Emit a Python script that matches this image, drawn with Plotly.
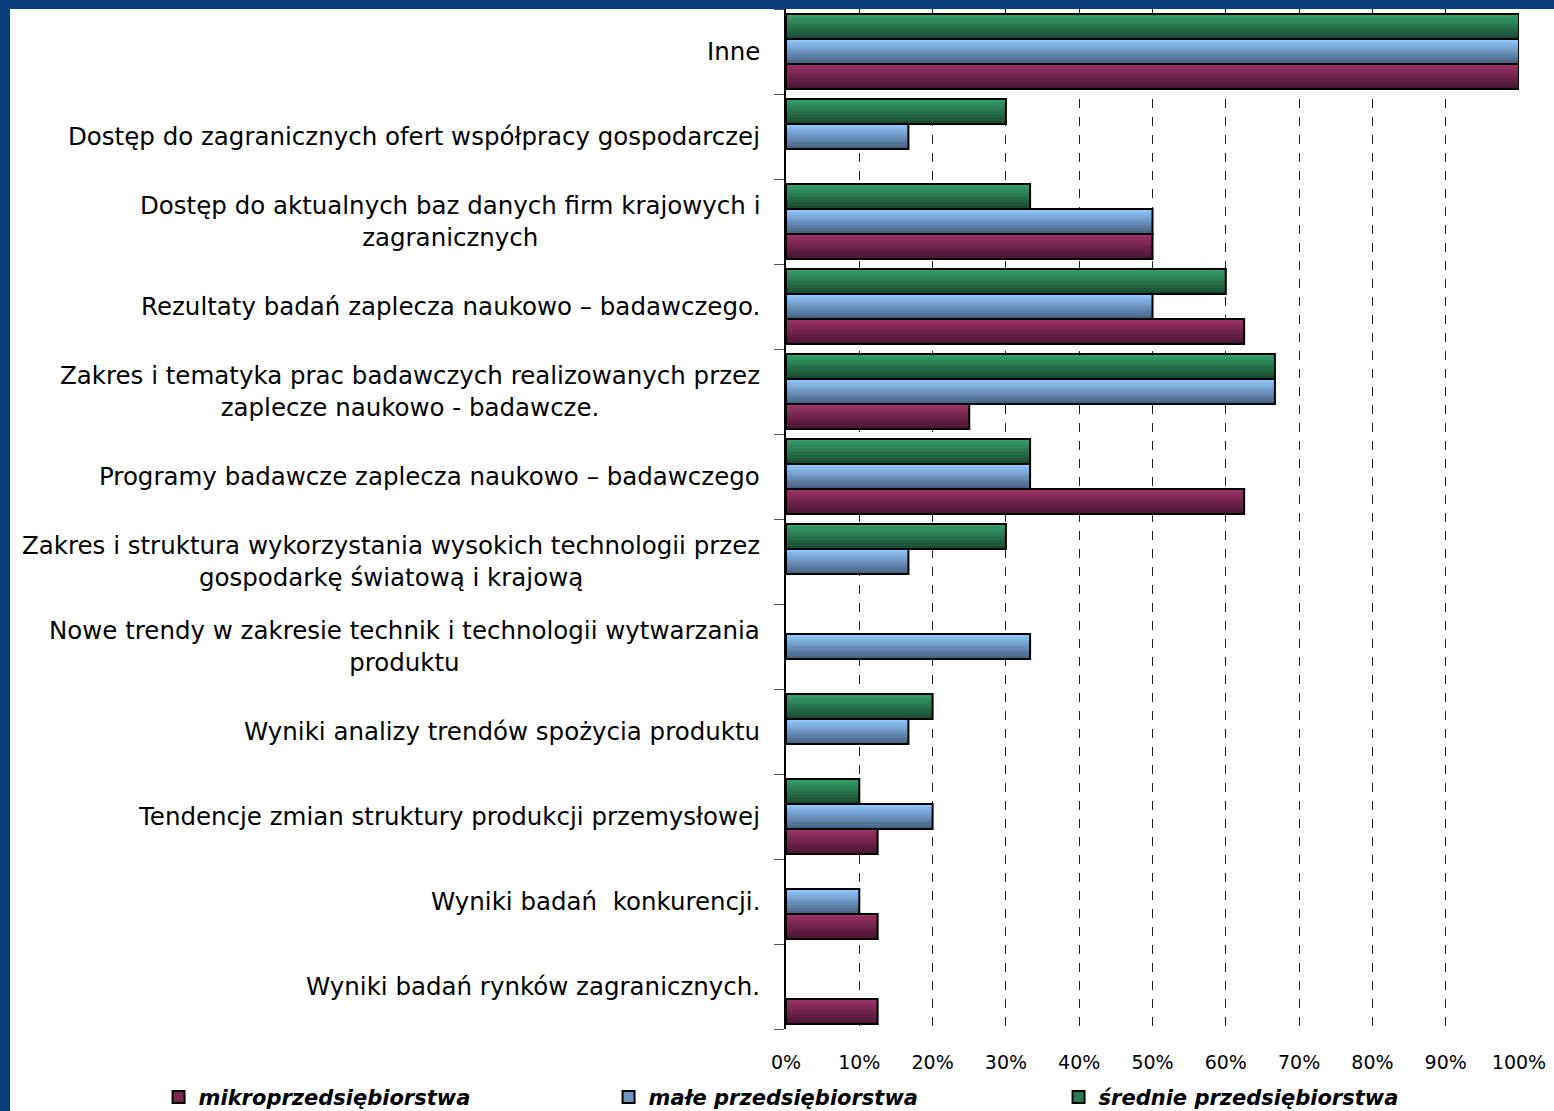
import plotly.graph_objects as go

# categories, top to bottom as read on the chart
categories = [
    "Inne",
    "Dostęp do zagranicznych ofert współpracy gospodarczej",
    "Dostęp do aktualnych baz danych firm krajowych i<br>zagranicznych",
    "Rezultaty badań zaplecza naukowo – badawczego.",
    "Zakres i tematyka prac badawczych realizowanych przez<br>zaplecze naukowo - badawcze.",
    "Programy badawcze zaplecza naukowo – badawczego",
    "Zakres i struktura wykorzystania wysokich technologii przez<br>gospodarkę światową i krajową",
    "Nowe trendy w zakresie technik i technologii wytwarzania<br>produktu",
    "Wyniki analizy trendów spożycia produktu",
    "Tendencje zmian struktury produkcji przemysłowej",
    "Wyniki badań  konkurencji.",
    "Wyniki badań rynków zagranicznych.",
]

mikro = [100, 0, 50, 62.5, 25, 62.5, 0, 0, 0, 12.5, 12.5, 12.5]
male = [100, 16.7, 50, 50, 66.7, 33.3, 16.7, 33.3, 16.7, 20, 10, 0]
srednie = [100, 30, 33.3, 60, 66.7, 33.3, 30, 0, 20, 10, 0, 0]

series_names = ["mikroprzedsiębiorstwa", "małe przedsiębiorstwa", "średnie przedsiębiorstwa"]

# (top colour, bottom colour, legend colour) per series
palette = [
    ((152, 50, 100), (76, 22, 52), "#7a2850"),
    ((142, 196, 250), (74, 100, 132), "#6e95c2"),
    ((52, 156, 104), (27, 76, 50), "#2a7a52"),
]

BAR_W = 25 / 85
N_STRIPES = 8
FONT = "DejaVu Sans, Liberation Sans, Arial"

fig = go.Figure()

cats = categories[::-1]
for i, (name, vals) in enumerate(zip(series_names, [mikro, male, srednie])):
    vals = [v if v > 0 else None for v in vals[::-1]]
    top, bot, legend_col = palette[i]
    base = -1.5 * BAR_W + i * BAR_W
    sw = BAR_W / N_STRIPES
    # stacked thin stripes fake the vertical gradient of the original bars
    for k in range(N_STRIPES):
        t = k / (N_STRIPES - 1)  # 0 bottom, 1 top
        c = tuple(round(bot[j] + (top[j] - bot[j]) * t) for j in range(3))
        w = sw * 1.6 if k < N_STRIPES - 1 else sw
        fig.add_trace(go.Bar(
            x=vals, y=cats, orientation="h",
            width=w, offset=base + k * sw,
            marker=dict(color="rgb(%d,%d,%d)" % c, line=dict(width=0)),
            showlegend=False, hoverinfo="skip",
        ))
    # outline
    fig.add_trace(go.Bar(
        x=vals, y=cats, orientation="h",
        width=BAR_W, offset=base,
        marker=dict(color="rgba(0,0,0,0)", line=dict(color="black", width=2)),
        showlegend=False, name=name,
    ))
    # legend entry only
    fig.add_trace(go.Bar(
        x=[None], y=[cats[0]], orientation="h", name=name,
        marker=dict(color=legend_col, line=dict(color="black", width=2)),
    ))

for cat in cats:
    fig.add_annotation(
        x=-0.033, xref="paper", y=cat, yref="y",
        text=cat, showarrow=False, xanchor="right", align="center",
        font=dict(family=FONT, size=24.5, color="black"),
    )

fig.update_layout(
    width=1554, height=1111,
    margin=dict(l=786, r=35, t=9, b=82, autoexpand=False),
    barmode="overlay",
    paper_bgcolor="#073d78",
    plot_bgcolor="white",
    font=dict(family=FONT, color="black"),
    legend=dict(
        orientation="h", x=-0.856, xanchor="left", y=-0.067, yanchor="middle",
        entrywidth=405, entrywidthmode="pixels",
        font=dict(size=21, style="italic", weight="bold", color="black"),
        bgcolor="rgba(0,0,0,0)",
    ),
    shapes=[dict(
        type="rect", xref="paper", yref="paper",
        x0=(10 - 786) / 733, x1=1.1, y0=-0.2, y1=1.0,
        fillcolor="white", line=dict(width=0), layer="below",
    )],
)

fig.update_xaxes(
    range=[0, 100], dtick=10, ticksuffix="%",
    showgrid=True, gridcolor="#222222", gridwidth=1, griddash="dash",
    zeroline=False, showline=False,
    tickfont=dict(size=19), ticks="", ticklabelstandoff=20,
)
fig.update_yaxes(
    type="category", range=[-0.5, 11.5],
    showticklabels=False, showgrid=False,
    showline=True, linecolor="black", linewidth=1.5,
    ticks="outside", tickson="boundaries", ticklen=10, tickcolor="#555555",
)

fig.write_html("out.html", config={"displayModeBar": False},
               post_script="document.body.style.margin='0';")
